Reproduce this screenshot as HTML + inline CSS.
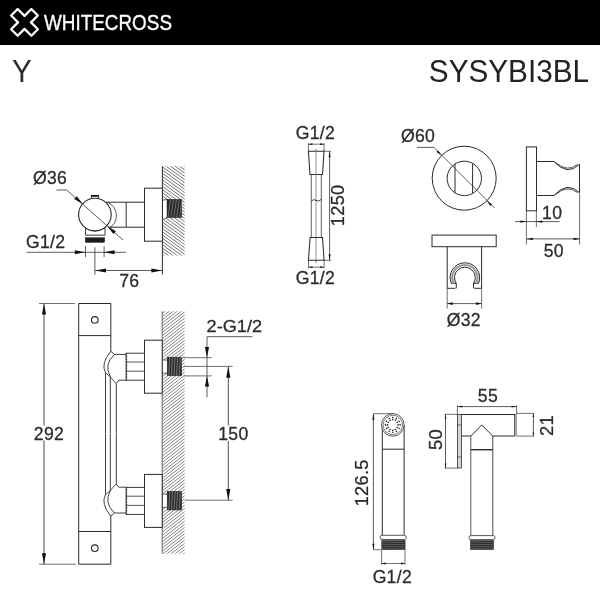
<!DOCTYPE html>
<html><head><meta charset="utf-8"><title>WHITECROSS Y SYSYBI3BL</title>
<style>
html,body{margin:0;padding:0;background:#fff;}
svg{display:block;will-change:transform;font-family:"Liberation Sans",sans-serif;}
</style></head><body>
<svg width="600" height="600" viewBox="0 0 600 600" shape-rendering="geometricPrecision">
<rect x="0" y="0" width="600" height="600" fill="#fff"/>
<rect x="0" y="0" width="600" height="45" fill="#000"/>
<polygon transform="translate(24.5 22.4) rotate(45)" points="-4.6,-14.3 4.6,-14.3 4.6,-4.6 14.3,-4.6 14.3,4.6 4.6,4.6 4.6,14.3 -4.6,14.3 -4.6,4.6 -14.3,4.6 -14.3,-4.6 -4.6,-4.6" fill="none" stroke="#fff" stroke-width="2.3" stroke-linejoin="round"/>
<text x="44.00" y="30.00" font-size="21.8" text-anchor="start" fill="#fff" textLength="128" lengthAdjust="spacingAndGlyphs" stroke="#fff" stroke-width="0.35">WHITECROSS</text>
<text x="12.00" y="81.80" font-size="31.4" text-anchor="start" fill="#2b2b2b" textLength="19.8" lengthAdjust="spacingAndGlyphs" >Y</text>
<text x="428.80" y="81.80" font-size="31.2" text-anchor="start" fill="#222" textLength="160.3" lengthAdjust="spacingAndGlyphs" >SYSYBI3BL</text>
<clipPath id="h1"><rect x="162.5" y="166.2" width="22.30000000000001" height="89.4"/></clipPath>
<g clip-path="url(#h1)" stroke="#505050" stroke-width="0.8">
<line x1="162.5" y1="150.64" x2="184.8" y2="166.70"/>
<line x1="162.5" y1="153.89" x2="184.8" y2="169.95"/>
<line x1="162.5" y1="157.14" x2="184.8" y2="173.20"/>
<line x1="162.5" y1="160.39" x2="184.8" y2="176.45"/>
<line x1="162.5" y1="163.64" x2="184.8" y2="179.70"/>
<line x1="162.5" y1="166.89" x2="184.8" y2="182.95"/>
<line x1="162.5" y1="170.14" x2="184.8" y2="186.20"/>
<line x1="162.5" y1="173.39" x2="184.8" y2="189.45"/>
<line x1="162.5" y1="176.64" x2="184.8" y2="192.70"/>
<line x1="162.5" y1="179.89" x2="184.8" y2="195.95"/>
<line x1="162.5" y1="183.14" x2="184.8" y2="199.20"/>
<line x1="162.5" y1="186.39" x2="184.8" y2="202.45"/>
<line x1="162.5" y1="189.64" x2="184.8" y2="205.70"/>
<line x1="162.5" y1="192.89" x2="184.8" y2="208.95"/>
<line x1="162.5" y1="196.14" x2="184.8" y2="212.20"/>
<line x1="162.5" y1="199.39" x2="184.8" y2="215.45"/>
<line x1="162.5" y1="202.64" x2="184.8" y2="218.70"/>
<line x1="162.5" y1="205.89" x2="184.8" y2="221.95"/>
<line x1="162.5" y1="209.14" x2="184.8" y2="225.20"/>
<line x1="162.5" y1="212.39" x2="184.8" y2="228.45"/>
<line x1="162.5" y1="215.64" x2="184.8" y2="231.70"/>
<line x1="162.5" y1="218.89" x2="184.8" y2="234.95"/>
<line x1="162.5" y1="222.14" x2="184.8" y2="238.20"/>
<line x1="162.5" y1="225.39" x2="184.8" y2="241.45"/>
<line x1="162.5" y1="228.64" x2="184.8" y2="244.70"/>
<line x1="162.5" y1="231.89" x2="184.8" y2="247.95"/>
<line x1="162.5" y1="235.14" x2="184.8" y2="251.20"/>
<line x1="162.5" y1="238.39" x2="184.8" y2="254.45"/>
<line x1="162.5" y1="241.64" x2="184.8" y2="257.70"/>
<line x1="162.5" y1="244.89" x2="184.8" y2="260.95"/>
<line x1="162.5" y1="248.14" x2="184.8" y2="264.20"/>
<line x1="162.5" y1="251.39" x2="184.8" y2="267.45"/>
<line x1="162.5" y1="254.64" x2="184.8" y2="270.70"/>
</g>
<polygon points="162.4,200.3 167,199.2 167,217.6 162.4,220.2" fill="#fff"/>
<line x1="162.40" y1="166.30" x2="162.40" y2="274.50" stroke="#2a2a2a" stroke-width="1" />
<rect x="167.00" y="199.30" width="14.70" height="18.20" stroke="#222" stroke-width="0.5" fill="#2b2b2b"/>
<line x1="170.60" y1="199.50" x2="168.00" y2="217.30" stroke="#999" stroke-width="0.6" />
<line x1="173.50" y1="199.50" x2="170.90" y2="217.30" stroke="#999" stroke-width="0.6" />
<line x1="176.40" y1="199.50" x2="173.80" y2="217.30" stroke="#999" stroke-width="0.6" />
<line x1="179.30" y1="199.50" x2="176.70" y2="217.30" stroke="#999" stroke-width="0.6" />
<line x1="182.20" y1="199.50" x2="179.60" y2="217.30" stroke="#999" stroke-width="0.6" />
<line x1="162.40" y1="200.40" x2="167.00" y2="199.30" stroke="#2a2a2a" stroke-width="0.7" />
<line x1="162.40" y1="220.00" x2="167.30" y2="216.90" stroke="#2a2a2a" stroke-width="0.7" />
<rect x="144.50" y="188.20" width="17.90" height="53.00" stroke="#2a2a2a" stroke-width="1" fill="#fff"/>
<line x1="106.50" y1="202.20" x2="144.50" y2="202.20" stroke="#2a2a2a" stroke-width="1" />
<line x1="109.50" y1="227.20" x2="144.50" y2="227.20" stroke="#2a2a2a" stroke-width="1" />
<line x1="126.20" y1="202.20" x2="126.20" y2="227.20" stroke="#444" stroke-width="1.1" />
<path d="M106.5,202.2 C119,206 119,223 109.8,227.2" stroke="#2a2a2a" stroke-width="0.8" fill="none" />
<path d="M91.4,199.5 L91.4,195.6 L98.6,195.6 L98.6,199.5" stroke="#2a2a2a" stroke-width="0.9" fill="#fff" />
<rect x="91" y="195" width="7.9" height="1.8" rx="0.5" fill="#111"/>
<path d="M85.5,226.5 L85.5,235.2 L105,235.2 L105,226.5" stroke="#2a2a2a" stroke-width="0.9" fill="#fff" />
<path d="M85.5,228.5 Q90,228 95,231.3 Q100,228 105,228.5" stroke="#2a2a2a" stroke-width="0.8" fill="none" />
<line x1="85.50" y1="235.20" x2="105.00" y2="235.20" stroke="#888" stroke-width="0.8" />
<circle cx="94.90" cy="214.60" r="16.30" stroke="#2a2a2a" stroke-width="1.1" fill="#fff"/>
<rect x="85.40" y="237.70" width="19.20" height="4.70" stroke="#111" stroke-width="0.4" fill="#1a1a1a"/>
<line x1="56.30" y1="190.00" x2="66.70" y2="190.00" stroke="#333" stroke-width="0.8" />
<line x1="66.70" y1="190.00" x2="123.00" y2="240.00" stroke="#333" stroke-width="0.8" />
<polygon points="83.00,204.30 74.28,199.06 76.81,196.22" fill="#111"/>
<polygon points="107.20,226.00 115.92,231.24 113.39,234.08" fill="#111"/>
<text x="50.00" y="184.00" font-size="17.6" text-anchor="middle" fill="#2b2b2b" letter-spacing="0.3"  stroke="#2b2b2b" stroke-width="0.28">Ø36</text>
<text x="45.70" y="247.50" font-size="17.6" text-anchor="middle" fill="#2b2b2b" letter-spacing="0.3"  stroke="#2b2b2b" stroke-width="0.28">G1/2</text>
<line x1="26.70" y1="252.30" x2="125.80" y2="252.30" stroke="#333" stroke-width="0.8" />
<polygon points="85.30,252.30 74.80,254.30 74.80,250.30" fill="#111"/>
<polygon points="104.10,252.30 114.60,250.30 114.60,254.30" fill="#111"/>
<line x1="85.50" y1="246.00" x2="85.50" y2="257.00" stroke="#333" stroke-width="0.8" />
<line x1="104.10" y1="246.50" x2="104.10" y2="257.00" stroke="#333" stroke-width="0.8" />
<line x1="94.90" y1="247.30" x2="94.90" y2="274.70" stroke="#333" stroke-width="0.8" />
<line x1="95.00" y1="270.50" x2="162.40" y2="270.50" stroke="#333" stroke-width="0.8" />
<polygon points="95.00,270.50 106.00,268.60 106.00,272.40" fill="#111"/>
<polygon points="162.40,270.50 151.40,272.40 151.40,268.60" fill="#111"/>
<text x="129.30" y="287.40" font-size="17.6" text-anchor="middle" fill="#2b2b2b" letter-spacing="0.3"  stroke="#2b2b2b" stroke-width="0.28">76</text>
<text x="315.40" y="139.30" font-size="17.6" text-anchor="middle" fill="#2b2b2b" letter-spacing="0.3"  stroke="#2b2b2b" stroke-width="0.28">G1/2</text>
<line x1="308.40" y1="143.20" x2="308.40" y2="151.30" stroke="#333" stroke-width="0.7" />
<line x1="324.10" y1="143.20" x2="324.10" y2="151.30" stroke="#333" stroke-width="0.7" />
<line x1="308.40" y1="144.20" x2="324.10" y2="144.20" stroke="#333" stroke-width="0.7" />
<polygon points="308.40,144.20 312.40,143.30 312.40,145.10" fill="#111"/>
<polygon points="324.10,144.20 320.10,145.10 320.10,143.30" fill="#111"/>
<path d="M308.4,151.3 L324,151.3 L322.5,174.5 L310,174.5 Z" stroke="#2a2a2a" stroke-width="1.05" fill="#fff" />
<line x1="311.30" y1="174.50" x2="311.30" y2="237.50" stroke="#444" stroke-width="0.85" />
<line x1="321.30" y1="174.50" x2="321.30" y2="237.50" stroke="#444" stroke-width="0.85" />
<line x1="316.00" y1="148.50" x2="316.00" y2="262.50" stroke="#666" stroke-width="0.7" />
<path d="M311.3,201 Q314,198.6 316,200.4 Q318,202.2 321.3,199.4" stroke="#2a2a2a" stroke-width="0.9" fill="none" />
<path d="M310.1,237.5 L322.5,237.5 L324.1,260.3 L308.4,260.3 Z" stroke="#2a2a2a" stroke-width="1.05" fill="#fff" />
<line x1="316.00" y1="237.50" x2="316.00" y2="262.50" stroke="#666" stroke-width="0.7" />
<line x1="308.50" y1="260.30" x2="308.50" y2="268.20" stroke="#333" stroke-width="0.7" />
<line x1="324.10" y1="260.30" x2="324.10" y2="268.20" stroke="#333" stroke-width="0.7" />
<line x1="308.50" y1="267.20" x2="324.10" y2="267.20" stroke="#333" stroke-width="0.7" />
<polygon points="308.50,267.20 312.50,266.30 312.50,268.10" fill="#111"/>
<polygon points="324.10,267.20 320.10,268.10 320.10,266.30" fill="#111"/>
<text x="315.40" y="284.30" font-size="17.6" text-anchor="middle" fill="#2b2b2b" letter-spacing="0.3"  stroke="#2b2b2b" stroke-width="0.28">G1/2</text>
<line x1="324.00" y1="151.30" x2="331.00" y2="151.30" stroke="#333" stroke-width="0.7" />
<line x1="324.20" y1="260.30" x2="331.00" y2="260.30" stroke="#333" stroke-width="0.7" />
<line x1="329.60" y1="151.30" x2="329.60" y2="260.30" stroke="#333" stroke-width="0.8" />
<polygon points="329.60,151.30 330.60,157.30 328.60,157.30" fill="#111"/>
<polygon points="329.60,260.30 328.60,254.30 330.60,254.30" fill="#111"/>
<text x="344.20" y="205.30" font-size="18.2" text-anchor="middle" fill="#2b2b2b" transform="rotate(-90 344.20 205.30)" letter-spacing="0.3"  stroke="#2b2b2b" stroke-width="0.28">1250</text>
<circle cx="464.20" cy="178.20" r="32.00" stroke="#2a2a2a" stroke-width="1" fill="none"/>
<circle cx="464.30" cy="178.40" r="17.20" stroke="#2a2a2a" stroke-width="1" fill="none"/>
<line x1="455.00" y1="163.93" x2="455.00" y2="192.87" stroke="#2a2a2a" stroke-width="1" />
<line x1="472.60" y1="163.34" x2="472.60" y2="193.46" stroke="#2a2a2a" stroke-width="1" />
<line x1="417.00" y1="147.40" x2="434.00" y2="147.40" stroke="#333" stroke-width="0.8" />
<line x1="434.00" y1="147.40" x2="494.50" y2="207.90" stroke="#333" stroke-width="0.8" />
<polygon points="441.60,155.50 436.58,152.04 438.14,150.48" fill="#111"/>
<polygon points="486.90,200.90 491.92,204.36 490.36,205.92" fill="#111"/>
<text x="418.00" y="142.00" font-size="17.6" text-anchor="middle" fill="#2b2b2b" letter-spacing="0.3"  stroke="#2b2b2b" stroke-width="0.28">Ø60</text>
<rect x="432.00" y="235.10" width="64.20" height="11.60" stroke="#2a2a2a" stroke-width="1" fill="#fff"/>
<line x1="447.20" y1="246.70" x2="447.20" y2="288.30" stroke="#2a2a2a" stroke-width="1" />
<line x1="481.60" y1="246.70" x2="481.60" y2="288.30" stroke="#2a2a2a" stroke-width="1" />
<line x1="447.20" y1="288.30" x2="447.20" y2="308.50" stroke="#333" stroke-width="0.7" />
<line x1="481.60" y1="288.30" x2="481.60" y2="308.50" stroke="#333" stroke-width="0.7" />
<line x1="447.20" y1="288.30" x2="455.30" y2="288.30" stroke="#2a2a2a" stroke-width="1" />
<line x1="474.40" y1="288.30" x2="481.60" y2="288.30" stroke="#2a2a2a" stroke-width="1" />
<path d="M456.27,283.4 L451.28,283.4 A14.8,14.8 0 1 1 478.52,283.4 L473.53,283.4" stroke="#2a2a2a" stroke-width="1" fill="none" />
<path d="M456.27,288.3 L456.27,283.4 A10.4,10.4 0 1 1 473.53,283.4 L473.53,288.3" stroke="#2a2a2a" stroke-width="1" fill="none" />
<path d="M453.71,283.4 A12.6,12.6 0 1 1 476.09,283.4" stroke="#999" stroke-width="2.2" fill="none" />
<line x1="447.20" y1="303.60" x2="481.60" y2="303.60" stroke="#333" stroke-width="0.8" />
<polygon points="447.20,303.60 452.70,302.30 452.70,304.90" fill="#111"/>
<polygon points="481.60,303.60 476.10,304.90 476.10,302.30" fill="#111"/>
<text x="463.80" y="326.30" font-size="17.6" text-anchor="middle" fill="#2b2b2b" letter-spacing="0.3"  stroke="#2b2b2b" stroke-width="0.28">Ø32</text>
<rect x="526.40" y="146.90" width="10.10" height="63.90" stroke="#2a2a2a" stroke-width="1" fill="#fff"/>
<path d="M536.5,161.5 L554,161.5 Q567.25,176.3 579.5,164.3" stroke="#2a2a2a" stroke-width="1.0" fill="none" />
<path d="M555.2,162.2 Q567.5,173.0 577.5,164.4" stroke="#2a2a2a" stroke-width="0.8" fill="none" />
<path d="M536.5,195.5 L554,195.5 Q567.25,180.7 579.5,192.7" stroke="#2a2a2a" stroke-width="1.0" fill="none" />
<path d="M555.2,194.8 Q567.5,184.0 577.5,192.6" stroke="#2a2a2a" stroke-width="0.8" fill="none" />
<line x1="579.50" y1="164.30" x2="579.50" y2="192.70" stroke="#2a2a2a" stroke-width="1" />
<line x1="526.40" y1="210.80" x2="526.40" y2="244.50" stroke="#333" stroke-width="0.7" />
<line x1="536.40" y1="210.80" x2="536.40" y2="227.00" stroke="#333" stroke-width="0.7" />
<line x1="579.60" y1="193.20" x2="579.60" y2="244.50" stroke="#333" stroke-width="0.7" />
<line x1="515.00" y1="221.60" x2="559.50" y2="221.60" stroke="#333" stroke-width="0.8" />
<polygon points="526.40,221.60 520.40,222.70 520.40,220.50" fill="#111"/>
<polygon points="536.40,221.60 542.40,220.50 542.40,222.70" fill="#111"/>
<text x="552.20" y="219.40" font-size="17.6" text-anchor="middle" fill="#2b2b2b" letter-spacing="0.3"  stroke="#2b2b2b" stroke-width="0.28">10</text>
<line x1="526.40" y1="238.90" x2="580.00" y2="238.90" stroke="#333" stroke-width="0.8" />
<polygon points="526.40,238.90 532.90,237.80 532.90,240.00" fill="#111"/>
<polygon points="580.00,238.90 573.50,240.00 573.50,237.80" fill="#111"/>
<text x="553.80" y="257.00" font-size="17.6" text-anchor="middle" fill="#2b2b2b" letter-spacing="0.3"  stroke="#2b2b2b" stroke-width="0.28">50</text>
<clipPath id="h2"><rect x="162.2" y="311.2" width="22.600000000000023" height="242.50000000000006"/></clipPath>
<g clip-path="url(#h2)" stroke="#3a3a3a" stroke-width="0.62">
<line x1="162.2" y1="313.50" x2="184.8" y2="295.87"/>
<line x1="162.2" y1="316.67" x2="184.8" y2="299.04"/>
<line x1="162.2" y1="319.84" x2="184.8" y2="302.21"/>
<line x1="162.2" y1="323.01" x2="184.8" y2="305.38"/>
<line x1="162.2" y1="326.18" x2="184.8" y2="308.55"/>
<line x1="162.2" y1="329.35" x2="184.8" y2="311.72"/>
<line x1="162.2" y1="332.52" x2="184.8" y2="314.89"/>
<line x1="162.2" y1="335.69" x2="184.8" y2="318.06"/>
<line x1="162.2" y1="338.86" x2="184.8" y2="321.23"/>
<line x1="162.2" y1="342.03" x2="184.8" y2="324.40"/>
<line x1="162.2" y1="345.20" x2="184.8" y2="327.57"/>
<line x1="162.2" y1="348.37" x2="184.8" y2="330.74"/>
<line x1="162.2" y1="351.54" x2="184.8" y2="333.91"/>
<line x1="162.2" y1="354.71" x2="184.8" y2="337.08"/>
<line x1="162.2" y1="357.88" x2="184.8" y2="340.25"/>
<line x1="162.2" y1="361.05" x2="184.8" y2="343.42"/>
<line x1="162.2" y1="364.22" x2="184.8" y2="346.59"/>
<line x1="162.2" y1="367.39" x2="184.8" y2="349.76"/>
<line x1="162.2" y1="370.56" x2="184.8" y2="352.93"/>
<line x1="162.2" y1="373.73" x2="184.8" y2="356.10"/>
<line x1="162.2" y1="376.90" x2="184.8" y2="359.27"/>
<line x1="162.2" y1="380.07" x2="184.8" y2="362.44"/>
<line x1="162.2" y1="383.24" x2="184.8" y2="365.61"/>
<line x1="162.2" y1="386.41" x2="184.8" y2="368.78"/>
<line x1="162.2" y1="389.58" x2="184.8" y2="371.95"/>
<line x1="162.2" y1="392.75" x2="184.8" y2="375.12"/>
<line x1="162.2" y1="395.92" x2="184.8" y2="378.29"/>
<line x1="162.2" y1="399.09" x2="184.8" y2="381.46"/>
<line x1="162.2" y1="402.26" x2="184.8" y2="384.63"/>
<line x1="162.2" y1="405.43" x2="184.8" y2="387.80"/>
<line x1="162.2" y1="408.60" x2="184.8" y2="390.97"/>
<line x1="162.2" y1="411.77" x2="184.8" y2="394.14"/>
<line x1="162.2" y1="414.94" x2="184.8" y2="397.31"/>
<line x1="162.2" y1="418.11" x2="184.8" y2="400.48"/>
<line x1="162.2" y1="421.28" x2="184.8" y2="403.65"/>
<line x1="162.2" y1="424.45" x2="184.8" y2="406.82"/>
<line x1="162.2" y1="427.62" x2="184.8" y2="409.99"/>
<line x1="162.2" y1="430.79" x2="184.8" y2="413.16"/>
<line x1="162.2" y1="433.96" x2="184.8" y2="416.33"/>
<line x1="162.2" y1="437.13" x2="184.8" y2="419.50"/>
<line x1="162.2" y1="440.30" x2="184.8" y2="422.67"/>
<line x1="162.2" y1="443.47" x2="184.8" y2="425.84"/>
<line x1="162.2" y1="446.64" x2="184.8" y2="429.01"/>
<line x1="162.2" y1="449.81" x2="184.8" y2="432.18"/>
<line x1="162.2" y1="452.98" x2="184.8" y2="435.35"/>
<line x1="162.2" y1="456.15" x2="184.8" y2="438.52"/>
<line x1="162.2" y1="459.32" x2="184.8" y2="441.69"/>
<line x1="162.2" y1="462.49" x2="184.8" y2="444.86"/>
<line x1="162.2" y1="465.66" x2="184.8" y2="448.03"/>
<line x1="162.2" y1="468.83" x2="184.8" y2="451.20"/>
<line x1="162.2" y1="472.00" x2="184.8" y2="454.37"/>
<line x1="162.2" y1="475.17" x2="184.8" y2="457.54"/>
<line x1="162.2" y1="478.34" x2="184.8" y2="460.71"/>
<line x1="162.2" y1="481.51" x2="184.8" y2="463.88"/>
<line x1="162.2" y1="484.68" x2="184.8" y2="467.05"/>
<line x1="162.2" y1="487.85" x2="184.8" y2="470.22"/>
<line x1="162.2" y1="491.02" x2="184.8" y2="473.39"/>
<line x1="162.2" y1="494.19" x2="184.8" y2="476.56"/>
<line x1="162.2" y1="497.36" x2="184.8" y2="479.73"/>
<line x1="162.2" y1="500.53" x2="184.8" y2="482.90"/>
<line x1="162.2" y1="503.70" x2="184.8" y2="486.07"/>
<line x1="162.2" y1="506.87" x2="184.8" y2="489.24"/>
<line x1="162.2" y1="510.04" x2="184.8" y2="492.41"/>
<line x1="162.2" y1="513.21" x2="184.8" y2="495.58"/>
<line x1="162.2" y1="516.38" x2="184.8" y2="498.75"/>
<line x1="162.2" y1="519.55" x2="184.8" y2="501.92"/>
<line x1="162.2" y1="522.72" x2="184.8" y2="505.09"/>
<line x1="162.2" y1="525.89" x2="184.8" y2="508.26"/>
<line x1="162.2" y1="529.06" x2="184.8" y2="511.43"/>
<line x1="162.2" y1="532.23" x2="184.8" y2="514.60"/>
<line x1="162.2" y1="535.40" x2="184.8" y2="517.77"/>
<line x1="162.2" y1="538.57" x2="184.8" y2="520.94"/>
<line x1="162.2" y1="541.74" x2="184.8" y2="524.11"/>
<line x1="162.2" y1="544.91" x2="184.8" y2="527.28"/>
<line x1="162.2" y1="548.08" x2="184.8" y2="530.45"/>
<line x1="162.2" y1="551.25" x2="184.8" y2="533.62"/>
<line x1="162.2" y1="554.42" x2="184.8" y2="536.79"/>
<line x1="162.2" y1="557.59" x2="184.8" y2="539.96"/>
<line x1="162.2" y1="560.76" x2="184.8" y2="543.13"/>
<line x1="162.2" y1="563.93" x2="184.8" y2="546.30"/>
<line x1="162.2" y1="567.10" x2="184.8" y2="549.47"/>
<line x1="162.2" y1="570.27" x2="184.8" y2="552.64"/>
</g>
<rect x="162.2" y="360.00" width="5.1" height="13.2" fill="#fff"/>
<rect x="162.2" y="494.20" width="5.1" height="13.2" fill="#fff"/>
<line x1="162.20" y1="311.20" x2="162.20" y2="553.70" stroke="#555" stroke-width="0.9" />
<rect x="167.20" y="357.20" width="14.40" height="18.60" stroke="#222" stroke-width="0.5" fill="#2b2b2b"/>
<line x1="169.80" y1="357.60" x2="168.80" y2="375.60" stroke="#aaa" stroke-width="0.6" />
<line x1="172.40" y1="357.60" x2="171.40" y2="375.60" stroke="#aaa" stroke-width="0.6" />
<line x1="175.00" y1="357.60" x2="174.00" y2="375.60" stroke="#aaa" stroke-width="0.6" />
<line x1="177.60" y1="357.60" x2="176.60" y2="375.60" stroke="#aaa" stroke-width="0.6" />
<line x1="180.20" y1="357.60" x2="179.20" y2="375.60" stroke="#aaa" stroke-width="0.6" />
<line x1="162.20" y1="360.00" x2="167.30" y2="360.00" stroke="#2a2a2a" stroke-width="0.7" />
<line x1="162.20" y1="373.20" x2="167.30" y2="373.20" stroke="#2a2a2a" stroke-width="0.7" />
<rect x="144.50" y="340.20" width="17.70" height="53.00" stroke="#2a2a2a" stroke-width="1" fill="#fff"/>
<rect x="126.20" y="353.20" width="18.30" height="27.00" stroke="#2a2a2a" stroke-width="0.9" fill="#fff"/>
<line x1="126.20" y1="362.00" x2="144.50" y2="362.00" stroke="#2a2a2a" stroke-width="0.8" />
<line x1="126.20" y1="371.20" x2="144.50" y2="371.20" stroke="#2a2a2a" stroke-width="0.8" />
<line x1="126.40" y1="353.20" x2="126.40" y2="380.20" stroke="#333" stroke-width="1.6" stroke-dasharray="0.8 0.7"/>
<rect x="167.20" y="491.40" width="14.40" height="18.60" stroke="#222" stroke-width="0.5" fill="#2b2b2b"/>
<line x1="169.80" y1="491.80" x2="168.80" y2="509.80" stroke="#aaa" stroke-width="0.6" />
<line x1="172.40" y1="491.80" x2="171.40" y2="509.80" stroke="#aaa" stroke-width="0.6" />
<line x1="175.00" y1="491.80" x2="174.00" y2="509.80" stroke="#aaa" stroke-width="0.6" />
<line x1="177.60" y1="491.80" x2="176.60" y2="509.80" stroke="#aaa" stroke-width="0.6" />
<line x1="180.20" y1="491.80" x2="179.20" y2="509.80" stroke="#aaa" stroke-width="0.6" />
<line x1="162.20" y1="494.20" x2="167.30" y2="494.20" stroke="#2a2a2a" stroke-width="0.7" />
<line x1="162.20" y1="507.40" x2="167.30" y2="507.40" stroke="#2a2a2a" stroke-width="0.7" />
<rect x="144.50" y="474.40" width="17.70" height="53.00" stroke="#2a2a2a" stroke-width="1" fill="#fff"/>
<rect x="126.20" y="487.40" width="18.30" height="27.00" stroke="#2a2a2a" stroke-width="0.9" fill="#fff"/>
<line x1="126.20" y1="496.20" x2="144.50" y2="496.20" stroke="#2a2a2a" stroke-width="0.8" />
<line x1="126.20" y1="505.40" x2="144.50" y2="505.40" stroke="#2a2a2a" stroke-width="0.8" />
<line x1="126.40" y1="487.40" x2="126.40" y2="514.40" stroke="#333" stroke-width="1.6" stroke-dasharray="0.8 0.7"/>
<path d="M110.8,351.3 L110.8,303.5 L78.7,303.5 L78.7,564.2 L110.8,564.2 L110.8,516.1" stroke="#2a2a2a" stroke-width="1" fill="none" />
<line x1="78.70" y1="335.60" x2="110.80" y2="335.60" stroke="#2a2a2a" stroke-width="1" />
<line x1="78.70" y1="531.50" x2="110.80" y2="531.50" stroke="#2a2a2a" stroke-width="1" />
<circle cx="94.80" cy="319.90" r="3.30" stroke="#2a2a2a" stroke-width="1.1" fill="none"/>
<circle cx="94.80" cy="548.20" r="3.30" stroke="#2a2a2a" stroke-width="1.1" fill="none"/>
<path d="M110.8,351.30 L114.5,354.40 L126.2,354.40" stroke="#2a2a2a" stroke-width="0.9" fill="none" />
<path d="M126.2,380.20 L118.8,380.20 L116.3,383.40 L116.3,433.60" stroke="#2a2a2a" stroke-width="0.9" fill="none" />
<path d="M110.8,351.30 Q100.5,363.60 105.5,372.80 L105.5,433.60" stroke="#2a2a2a" stroke-width="0.9" fill="none" />
<path d="M114.5,354.40 Q103.5,364.60 110.3,376.60 L110.3,433.60" stroke="#2a2a2a" stroke-width="0.9" fill="none" />
<path d="M105.5,372.80 L110,376.60 L116,383.40" stroke="#2a2a2a" stroke-width="0.8" fill="none" />
<path d="M110.8,516.10 L114.5,513.00 L126.2,513.00" stroke="#2a2a2a" stroke-width="0.9" fill="none" />
<path d="M126.2,487.20 L118.8,487.20 L116.3,484.00 L116.3,433.80" stroke="#2a2a2a" stroke-width="0.9" fill="none" />
<path d="M110.8,516.10 Q100.5,503.80 105.5,494.60 L105.5,433.80" stroke="#2a2a2a" stroke-width="0.9" fill="none" />
<path d="M114.5,513.00 Q103.5,502.80 110.3,490.80 L110.3,433.80" stroke="#2a2a2a" stroke-width="0.9" fill="none" />
<path d="M105.5,494.60 L110,490.80 L116,484.00" stroke="#2a2a2a" stroke-width="0.8" fill="none" />
<line x1="39.00" y1="303.50" x2="75.00" y2="303.50" stroke="#333" stroke-width="0.7" />
<line x1="39.00" y1="564.20" x2="76.00" y2="564.20" stroke="#333" stroke-width="0.7" />
<line x1="44.00" y1="303.50" x2="44.00" y2="425.50" stroke="#333" stroke-width="0.9" />
<line x1="44.00" y1="440.50" x2="44.00" y2="564.20" stroke="#333" stroke-width="0.9" />
<polygon points="44.00,303.50 46.00,314.50 42.00,314.50" fill="#111"/>
<polygon points="44.00,564.20 42.00,553.20 46.00,553.20" fill="#111"/>
<text x="49.00" y="439.70" font-size="17.6" text-anchor="middle" fill="#2b2b2b" letter-spacing="0.3"  stroke="#2b2b2b" stroke-width="0.28">292</text>
<line x1="183.70" y1="357.70" x2="211.70" y2="357.70" stroke="#333" stroke-width="0.7" />
<line x1="183.70" y1="375.90" x2="211.70" y2="375.90" stroke="#333" stroke-width="0.7" />
<line x1="183.70" y1="366.40" x2="232.70" y2="366.40" stroke="#333" stroke-width="0.7" />
<line x1="207.00" y1="336.70" x2="207.00" y2="397.30" stroke="#333" stroke-width="0.8" />
<line x1="207.00" y1="336.70" x2="252.50" y2="336.70" stroke="#333" stroke-width="0.8" />
<polygon points="207.00,357.40 204.90,346.90 209.10,346.90" fill="#111"/>
<polygon points="207.00,375.90 209.10,386.40 204.90,386.40" fill="#111"/>
<text x="206.60" y="332.00" font-size="17.0" text-anchor="start" fill="#2b2b2b" textLength="55.5" lengthAdjust="spacingAndGlyphs"  stroke="#2b2b2b" stroke-width="0.28">2-G1/2</text>
<line x1="228.30" y1="366.40" x2="228.30" y2="425.50" stroke="#333" stroke-width="0.85" />
<line x1="228.30" y1="441.00" x2="228.30" y2="500.20" stroke="#333" stroke-width="0.85" />
<polygon points="228.30,366.50 230.40,377.80 226.20,377.80" fill="#111"/>
<polygon points="228.30,500.20 226.20,488.90 230.40,488.90" fill="#111"/>
<line x1="184.80" y1="500.20" x2="232.70" y2="500.20" stroke="#333" stroke-width="0.7" />
<text x="233.40" y="440.00" font-size="17.6" text-anchor="middle" fill="#2b2b2b" letter-spacing="0.3"  stroke="#2b2b2b" stroke-width="0.28">150</text>
<line x1="382.30" y1="425.00" x2="382.30" y2="535.00" stroke="#2a2a2a" stroke-width="1" />
<line x1="404.10" y1="425.00" x2="404.10" y2="535.00" stroke="#2a2a2a" stroke-width="1" />
<line x1="382.30" y1="449.20" x2="404.10" y2="449.20" stroke="#2a2a2a" stroke-width="1" />
<circle cx="392.80" cy="424.90" r="11.30" stroke="#444" stroke-width="0.9" fill="#fff"/>
<circle cx="392.80" cy="424.90" r="9.70" stroke="#555" stroke-width="0.8" fill="none"/>
<circle cx="400.10" cy="424.90" r="0.8" fill="#1a1a1a"/>
<circle cx="399.12" cy="428.55" r="0.8" fill="#1a1a1a"/>
<circle cx="396.45" cy="431.22" r="0.8" fill="#1a1a1a"/>
<circle cx="392.80" cy="432.20" r="0.8" fill="#1a1a1a"/>
<circle cx="389.15" cy="431.22" r="0.8" fill="#1a1a1a"/>
<circle cx="386.48" cy="428.55" r="0.8" fill="#1a1a1a"/>
<circle cx="385.50" cy="424.90" r="0.8" fill="#1a1a1a"/>
<circle cx="386.48" cy="421.25" r="0.8" fill="#1a1a1a"/>
<circle cx="389.15" cy="418.58" r="0.8" fill="#1a1a1a"/>
<circle cx="392.80" cy="417.60" r="0.8" fill="#1a1a1a"/>
<circle cx="396.45" cy="418.58" r="0.8" fill="#1a1a1a"/>
<circle cx="399.12" cy="421.25" r="0.8" fill="#1a1a1a"/>
<circle cx="398.10" cy="424.90" r="0.8" fill="#1a1a1a"/>
<circle cx="397.39" cy="427.55" r="0.8" fill="#1a1a1a"/>
<circle cx="395.45" cy="429.49" r="0.8" fill="#1a1a1a"/>
<circle cx="392.80" cy="430.20" r="0.8" fill="#1a1a1a"/>
<circle cx="390.15" cy="429.49" r="0.8" fill="#1a1a1a"/>
<circle cx="388.21" cy="427.55" r="0.8" fill="#1a1a1a"/>
<circle cx="387.50" cy="424.90" r="0.8" fill="#1a1a1a"/>
<circle cx="388.21" cy="422.25" r="0.8" fill="#1a1a1a"/>
<circle cx="390.15" cy="420.31" r="0.8" fill="#1a1a1a"/>
<circle cx="392.80" cy="419.60" r="0.8" fill="#1a1a1a"/>
<circle cx="395.45" cy="420.31" r="0.8" fill="#1a1a1a"/>
<circle cx="397.39" cy="422.25" r="0.8" fill="#1a1a1a"/>
<rect x="380.2" y="535.3" width="26" height="4.2" rx="1.8" fill="#fff" stroke="#444" stroke-width="0.9"/>
<rect x="381.80" y="540.60" width="23.30" height="9.10" stroke="#1a1a1a" stroke-width="0.5" fill="#2c2c2c"/>
<line x1="382.00" y1="542.00" x2="404.90" y2="542.50" stroke="#888" stroke-width="0.55" />
<line x1="382.00" y1="544.20" x2="404.90" y2="544.70" stroke="#888" stroke-width="0.55" />
<line x1="382.00" y1="546.40" x2="404.90" y2="546.90" stroke="#888" stroke-width="0.55" />
<line x1="382.00" y1="548.60" x2="404.90" y2="549.10" stroke="#888" stroke-width="0.55" />
<line x1="381.60" y1="549.70" x2="381.60" y2="564.60" stroke="#333" stroke-width="0.7" />
<line x1="405.00" y1="549.70" x2="405.00" y2="564.60" stroke="#333" stroke-width="0.7" />
<line x1="381.60" y1="563.50" x2="405.00" y2="563.50" stroke="#333" stroke-width="0.7" />
<polygon points="381.60,563.50 385.60,562.60 385.60,564.40" fill="#111"/>
<polygon points="405.00,563.50 401.00,564.40 401.00,562.60" fill="#111"/>
<text x="392.30" y="582.50" font-size="17.6" text-anchor="middle" fill="#2b2b2b" letter-spacing="0.3"  stroke="#2b2b2b" stroke-width="0.28">G1/2</text>
<line x1="373.40" y1="413.70" x2="393.00" y2="413.70" stroke="#333" stroke-width="0.7" />
<line x1="373.40" y1="549.70" x2="381.00" y2="549.70" stroke="#333" stroke-width="0.7" />
<line x1="373.40" y1="413.70" x2="373.40" y2="549.70" stroke="#333" stroke-width="0.8" />
<polygon points="373.40,413.70 374.40,419.70 372.40,419.70" fill="#111"/>
<polygon points="373.40,549.70 372.40,543.70 374.40,543.70" fill="#111"/>
<text x="367.80" y="482.80" font-size="18.2" text-anchor="middle" fill="#2b2b2b" transform="rotate(-90 367.80 482.80)" letter-spacing="0.3"  stroke="#2b2b2b" stroke-width="0.28">126.5</text>
<text x="487.90" y="402.40" font-size="17.6" text-anchor="middle" fill="#2b2b2b" letter-spacing="0.3"  stroke="#2b2b2b" stroke-width="0.28">55</text>
<line x1="457.40" y1="405.20" x2="457.40" y2="414.50" stroke="#333" stroke-width="0.7" />
<line x1="516.60" y1="405.20" x2="516.60" y2="414.50" stroke="#333" stroke-width="0.7" />
<line x1="457.40" y1="406.60" x2="516.60" y2="406.60" stroke="#333" stroke-width="0.8" />
<polygon points="457.40,406.60 462.40,405.80 462.40,407.40" fill="#111"/>
<polygon points="516.60,406.60 511.60,407.40 511.60,405.80" fill="#111"/>
<rect x="457.50" y="414.40" width="3.90" height="53.60" stroke="#333" stroke-width="0.8" fill="#d4d4d4"/>
<line x1="457.40" y1="425.00" x2="461.40" y2="425.00" stroke="#444" stroke-width="0.7" />
<line x1="457.40" y1="457.00" x2="461.40" y2="457.00" stroke="#444" stroke-width="0.7" />
<path d="M461.4,414.5 L515.3,414.5 M514.8,436 L492.7,436 M470.8,436 L461.4,436" stroke="#2a2a2a" stroke-width="1" fill="none" />
<line x1="514.80" y1="414.50" x2="514.80" y2="436.00" stroke="#2a2a2a" stroke-width="1.1" />
<line x1="516.40" y1="414.50" x2="516.40" y2="436.00" stroke="#777" stroke-width="0.8" />
<line x1="470.80" y1="436.00" x2="470.80" y2="535.60" stroke="#444" stroke-width="0.9" />
<line x1="492.80" y1="436.00" x2="492.80" y2="535.60" stroke="#333" stroke-width="0.9" />
<path d="M470.8,436 L481.7,425 L492.8,436" stroke="#2a2a2a" stroke-width="1" fill="none" />
<line x1="470.80" y1="449.70" x2="492.80" y2="449.70" stroke="#2a2a2a" stroke-width="1.4" />
<rect x="469" y="535.6" width="26" height="4" rx="1.8" fill="#fff" stroke="#444" stroke-width="0.9"/>
<rect x="470.40" y="540.60" width="23.20" height="9.00" stroke="#1a1a1a" stroke-width="0.5" fill="#2c2c2c"/>
<line x1="470.60" y1="542.00" x2="493.40" y2="542.50" stroke="#888" stroke-width="0.55" />
<line x1="470.60" y1="544.20" x2="493.40" y2="544.70" stroke="#888" stroke-width="0.55" />
<line x1="470.60" y1="546.40" x2="493.40" y2="546.90" stroke="#888" stroke-width="0.55" />
<line x1="470.60" y1="548.60" x2="493.40" y2="549.10" stroke="#888" stroke-width="0.55" />
<line x1="444.50" y1="414.30" x2="457.40" y2="414.30" stroke="#333" stroke-width="0.7" />
<line x1="444.50" y1="468.10" x2="457.40" y2="468.10" stroke="#333" stroke-width="0.7" />
<line x1="445.50" y1="414.30" x2="445.50" y2="468.10" stroke="#333" stroke-width="0.8" />
<polygon points="445.50,414.30 446.30,418.80 444.70,418.80" fill="#111"/>
<polygon points="445.50,468.10 444.70,463.60 446.30,463.60" fill="#111"/>
<text x="441.50" y="439.50" font-size="18.4" text-anchor="middle" fill="#2b2b2b" transform="rotate(-90 441.50 439.50)" letter-spacing="0.3"  stroke="#2b2b2b" stroke-width="0.28">50</text>
<line x1="516.40" y1="413.40" x2="534.00" y2="413.40" stroke="#333" stroke-width="0.7" />
<line x1="516.40" y1="436.10" x2="534.00" y2="436.10" stroke="#333" stroke-width="0.7" />
<line x1="533.40" y1="413.40" x2="533.40" y2="436.10" stroke="#333" stroke-width="0.8" />
<polygon points="533.40,413.40 534.20,416.90 532.60,416.90" fill="#111"/>
<polygon points="533.40,436.10 532.60,432.60 534.20,432.60" fill="#111"/>
<text x="553.00" y="425.50" font-size="18.4" text-anchor="middle" fill="#2b2b2b" transform="rotate(-90 553.00 425.50)" letter-spacing="0.3"  stroke="#2b2b2b" stroke-width="0.28">21</text>
</svg>
</body></html>
